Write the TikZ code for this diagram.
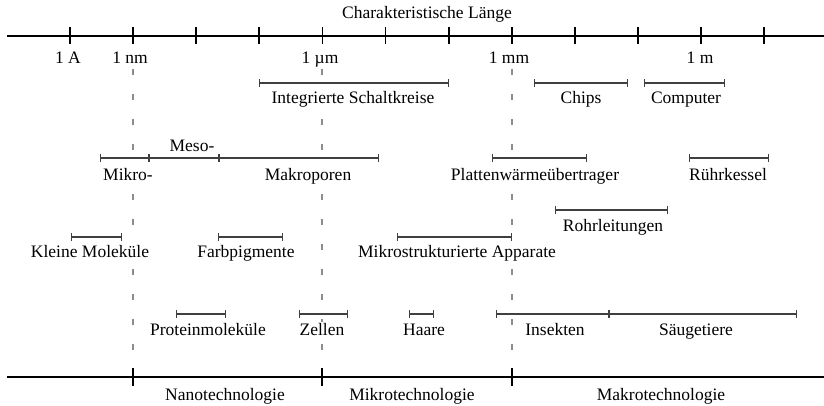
\documentclass[tikz,border=0pt]{standalone}
\usepackage{fontspec}
\setmainfont{Liberation Serif}
\usetikzlibrary{arrows.meta}
\begin{document}
\begin{tikzpicture}[x=1pt,y=-1pt,
  lbl/.style={anchor=base, fill=white, inner sep=1pt, font=\fontsize{17.5}{20}\selectfont},
  axisline/.style={line width=1.7pt, black},
  axtick/.style={line width=1.8pt, black},
  guide/.style={line width=2pt, black!45, dash pattern=on 6pt off 19pt},
  rangebar/.style={line width=1.1pt, black!75, {Bar[width=8pt]}-{Bar[width=8pt]}},
]
\useasboundingbox (0,0) rectangle (824,406);

% guide lines
\coordinate (g1a) at (133,69);  \coordinate (g1b) at (133,377);
\coordinate (g2a) at (322,69);  \coordinate (g2b) at (322,377);
\coordinate (g3a) at (512,69);  \coordinate (g3b) at (512,377);
\draw[guide] (g1a) -- (g1b);
\draw[guide] (g2a) -- (g2b);
\draw[guide] (g3a) -- (g3b);

% labels
\node[lbl] (title) at (427,19) {Charakteristische Länge};
\node[lbl] (lA)  at (68,64)  {1 A};
\node[lbl] (lnm) at (130,64) {1 nm};
\node[lbl] (lum) at (320,64) {1 µm};
\node[lbl] (lmm) at (509,64) {1 mm};
\node[lbl] (lm)  at (700,64) {1 m};

\node[lbl] (tIS)   at (353,104) {Integrierte Schaltkreise};
\node[lbl] (tChip) at (581,104) {Chips};
\node[lbl] (tComp) at (686,104) {Computer};

\node[lbl] (tMikro) at (128,181) {Mikro-};
\node[lbl] (tMeso)  at (192,152) {Meso-};
\node[lbl] (tMakro) at (308,181) {Makroporen};
\node[lbl] (tPWU)   at (535,181) {Plattenwärmeübertrager};
\node[lbl] (tRK)    at (728,181) {Rührkessel};

\node[lbl] (tRohr) at (613,231) {Rohrleitungen};

\node[lbl] (tKM)   at (90,257)  {Kleine Moleküle};
\node[lbl] (tFarb) at (246,257) {Farbpigmente};
\node[lbl] (tMSA)  at (457,257) {Mikrostrukturierte Apparate};

\node[lbl] (tProt) at (208,335) {Proteinmoleküle};
\node[lbl] (tZell) at (322,335) {Zellen};
\node[lbl] (tHaar) at (424,335) {Haare};
\node[lbl] (tIns)  at (555,335) {Insekten};
\node[lbl] (tSaeu) at (696,335) {Säugetiere};

\node[lbl] (tNano)  at (225,400) {Nanotechnologie};
\node[lbl] (tMikT)  at (412,400) {Mikrotechnologie};
\node[lbl] (tMakT)  at (661,400) {Makrotechnologie};

% top axis
\coordinate (tl) at (7,36); \coordinate (tr) at (824,36);
\draw[axisline] (tl) -- (tr);
\foreach \i in {0,...,11} {
  \coordinate (t\i) at ({70+63.1*\i},36);
  \draw[axtick] (t\i) ++(0,-8.5) -- ++(0,17);
}

% bottom axis
\coordinate (bl) at (7,377); \coordinate (br) at (824,377);
\draw[axisline] (bl) -- (br);
\foreach \n/\x in {b1/133,b2/322,b3/512} {
  \coordinate (\n) at (\x,377);
  \draw[axtick] (\n) ++(0,-9) -- ++(0,18);
}

% range bars
\coordinate (is1) at (259.3,83); \coordinate (is2) at (448.6,83);
\draw[rangebar] (is1) -- (is2);
\coordinate (ch1) at (534,83); \coordinate (ch2) at (628,83);
\draw[rangebar] (ch1) -- (ch2);
\coordinate (co1) at (644,83); \coordinate (co2) at (725,83);
\draw[rangebar] (co1) -- (co2);

\coordinate (po1) at (100,158); \coordinate (po2) at (149,158);
\coordinate (po3) at (219,158); \coordinate (po4) at (379,158);
\draw[rangebar] (po1) -- (po2);
\draw[rangebar] (po2) -- (po3);
\draw[rangebar] (po3) -- (po4);
\coordinate (pw1) at (492,158); \coordinate (pw2) at (587,158);
\draw[rangebar] (pw1) -- (pw2);
\coordinate (rk1) at (689,158); \coordinate (rk2) at (769,158);
\draw[rangebar] (rk1) -- (rk2);

\coordinate (ro1) at (555,210); \coordinate (ro2) at (668,210);
\draw[rangebar] (ro1) -- (ro2);

\coordinate (km1) at (71,237); \coordinate (km2) at (122,237);
\draw[rangebar] (km1) -- (km2);
\coordinate (fp1) at (218,237); \coordinate (fp2) at (283,237);
\draw[rangebar] (fp1) -- (fp2);
\coordinate (ms1) at (397,237); \coordinate (ms2) at (512,237);
\draw[rangebar] (ms1) -- (ms2);

\coordinate (pr1) at (176,314); \coordinate (pr2) at (226,314);
\draw[rangebar] (pr1) -- (pr2);
\coordinate (ze1) at (299,314); \coordinate (ze2) at (348,314);
\draw[rangebar] (ze1) -- (ze2);
\coordinate (ha1) at (409,314); \coordinate (ha2) at (434,314);
\draw[rangebar] (ha1) -- (ha2);
\coordinate (in1) at (496,314); \coordinate (in2) at (609,314);
\coordinate (in3) at (797,314);
\draw[rangebar] (in1) -- (in2);
\draw[rangebar] (in2) -- (in3);
\end{tikzpicture}
\end{document}
